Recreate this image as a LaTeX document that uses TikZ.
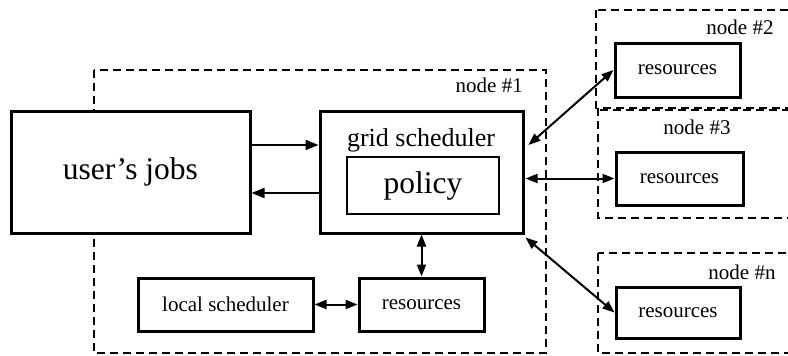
\documentclass[tikz,border=0pt]{standalone}
\usepackage{fontspec}
\setmainfont{Liberation Serif}
\usetikzlibrary{arrows.meta}
\begin{document}
\begin{tikzpicture}[x=1pt,y=-1pt,
	box/.style={draw,fill=white,line width=3pt,inner sep=0pt,font=\fontsize{21}{25}\selectfont},
	host/.style={draw,line width=1.5pt,dash pattern=on 8pt off 5pt},
	hostlabel/.style={inner sep=0pt,font=\fontsize{21}{25}\selectfont},
	link/.style={line width=2pt,-{Triangle[length=13pt,width=10pt]}},
	duplex/.style={line width=2pt,{Triangle[length=12pt,width=9pt]}-{Triangle[length=12pt,width=9pt]}}]
	\useasboundingbox (0,0) rectangle (788,356);
	\fill[color=white] (0,0) rectangle (788,356);
	\draw[host] (94,70) rectangle (546,353);
	\draw[host] (596,10) rectangle (800,110);
	\draw[host] (598,108) rectangle (800,218);
	\draw[host] (598,253) rectangle (800,353);
	\node[hostlabel,anchor=east] (label1) at (523,85) {node \#1};
	\node[hostlabel] (label2) at (740,27) {node \#2};
	\node[hostlabel] (label3) at (697,127) {node \#3};
	\node[hostlabel] (labeln) at (742,272) {node \#n};
	\node[box,minimum width=239,minimum height=122,font=\fontsize{31.5}{36}\selectfont] (jobs) at (130.5,172) {user’s jobs};
	\node[box,minimum width=203,minimum height=122] (grid) at (421.5,172) {};
	\node[inner sep=0pt,font=\fontsize{26}{30}\selectfont] (gridlabel) at (421,140) {grid scheduler};
	\node[box,line width=2pt,minimum width=152,minimum height=57,font=\fontsize{31.5}{36}\selectfont] (policy) at (423,185.5) {policy};
	\node[box,minimum width=125,minimum height=53] (lres) at (421.5,304.5) {resources};
	\node[box,minimum width=175,minimum height=53] (lsched) at (225.5,304.5) {local scheduler};
	\node[box,minimum width=125,minimum height=54] (res2) at (677.5,70) {resources};
	\node[box,minimum width=127,minimum height=53] (res3) at (679.5,178.5) {resources};
	\node[box,minimum width=124,minimum height=51] (resn) at (678,312.5) {resources};
	\draw[link] ([yshift=27pt]jobs.east) -- ([yshift=27pt]grid.west);
	\draw[link] ([yshift=-21pt]grid.west) -- ([yshift=-21pt]jobs.east);
	\draw[duplex] (grid.south) -- (lres.north);
	\draw[duplex] (lsched.east) -- (lres.west);
	\draw[duplex] ([xshift=4pt,yshift=27pt]grid.east) -- (res2.west);
	\draw[duplex] ([xshift=1pt]grid.east |- res3.west) -- (res3.west);
	\draw[duplex] ([xshift=1pt,yshift=-3pt]grid.south east) -- (resn.west);
\end{tikzpicture}
\end{document}
